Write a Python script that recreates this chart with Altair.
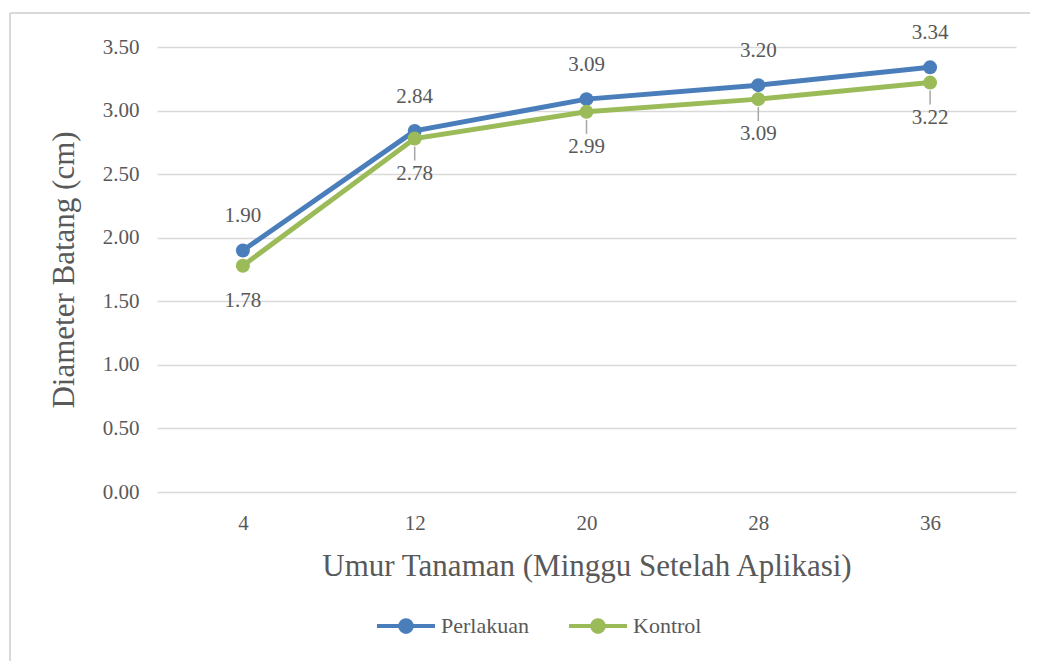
import altair as alt
import pandas as pd

weeks = ["4", "12", "20", "28", "36"]
perlakuan = [1.90, 2.84, 3.09, 3.20, 3.34]
kontrol = [1.78, 2.78, 2.99, 3.09, 3.22]
series = ["Perlakuan", "Kontrol"]
colors = ["#4A7EBB", "#9BBB59"]
leader = [False, True, True, True, True]

rows = []
for i, w in enumerate(weeks):
    rows.append({"week": w, "series": "Perlakuan", "value": perlakuan[i], "leader": False})
    rows.append({"week": w, "series": "Kontrol", "value": kontrol[i], "leader": leader[i]})
df = pd.DataFrame(rows)

TXT = "#595959"
SERIF_NUM = "Liberation Serif"
SERIF_TITLE = "Liberation Serif"
NUM_SIZE = 21

x = alt.X("week:N", sort=weeks, title="Umur Tanaman (Minggu Setelah Aplikasi)",
          scale=alt.Scale(type="point", padding=0.5),
          axis=alt.Axis(labelAngle=0, grid=False, domain=False, ticks=False,
                        labelPadding=20, titlePadding=18))
y = alt.Y("value:Q", title="Diameter Batang (cm)",
          scale=alt.Scale(domain=[0, 3.5], nice=False),
          axis=alt.Axis(values=[0, 0.5, 1, 1.5, 2, 2.5, 3, 3.5], format=".2f",
                        domain=False, ticks=False, labelPadding=18, titlePadding=22))

legend_path = "M-1,0H1M-0.2,0A0.2,0.2 0 1,0 0.2,0A0.2,0.2 0 1,0 -0.2,0Z"
color = alt.Color("series:N", sort=series,
                  scale=alt.Scale(domain=series, range=colors),
                  legend=alt.Legend(title=None, orient="none", direction="horizontal",
                                    legendX=218, legendY=548,
                                    symbolType=legend_path, symbolSize=3364,
                                    symbolStrokeWidth=4, labelFont=SERIF_NUM,
                                    labelFontSize=22, labelColor=TXT,
                                    columnPadding=32, labelOffset=4))

base = alt.Chart(df)

line = base.mark_line(strokeWidth=5).encode(x=x, y=y, color=color)
points = base.mark_point(filled=True, size=196, opacity=1).encode(x=x, y=y, color=color)

lab_p = base.transform_filter(alt.datum.series == "Perlakuan").mark_text(
    dy=-34, font=SERIF_NUM, fontSize=NUM_SIZE, color=TXT
).encode(x=x, y=y, text=alt.Text("value:Q", format=".2f"))

lab_k = base.transform_filter(alt.datum.series == "Kontrol").mark_text(
    dy=35, font=SERIF_NUM, fontSize=NUM_SIZE, color=TXT
).encode(x=x, y=y, text=alt.Text("value:Q", format=".2f"))

leaders = base.transform_filter(alt.datum.leader).mark_rule(
    color="#A6A6A6", strokeWidth=1.5, yOffset=8, y2Offset=22
).encode(x=x, y=y, y2="value:Q")

border_left = alt.Chart(df).mark_rule(color="#D9D9D9", strokeWidth=1.5).encode(
    x=alt.value(-147), y=alt.value(-34), y2=alt.value(640))
border_top = alt.Chart(df).mark_rule(color="#D9D9D9", strokeWidth=1.5).encode(
    x=alt.value(-147), x2=alt.value(873), y=alt.value(-34))

chart = alt.layer(border_left, border_top, line, leaders, points, lab_p, lab_k).properties(
    width=859, height=445,
    autosize=alt.AutoSizeParams(type="none"),
    padding={"left": 149, "top": 39, "right": 14, "bottom": 169},
).configure_view(stroke=None).configure_axis(
    labelFont=SERIF_NUM, labelFontSize=NUM_SIZE, labelColor=TXT,
    titleFont=SERIF_TITLE, titleFontSize=31, titleColor=TXT, titleFontWeight="normal",
    gridColor="#D9D9D9", gridWidth=1.5,
)

chart.save("out.html", embed_options={"renderer": "svg", "actions": False})
